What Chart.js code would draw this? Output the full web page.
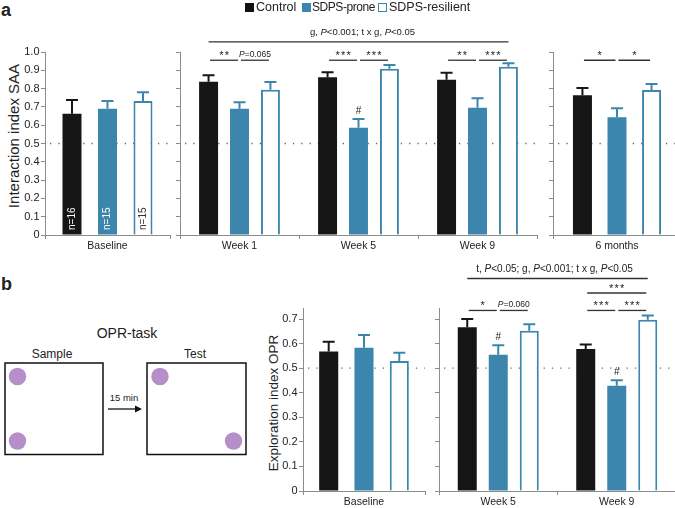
<!DOCTYPE html>
<html>
<head>
<meta charset="utf-8">
<script src="https://cdn.jsdelivr.net/npm/chart.js@4.4.1/dist/chart.umd.min.js"></script>
<style>
  body { margin: 0; width: 675px; height: 508px; overflow: hidden; background: #fff; position: relative;
         font-family: Arial, "Liberation Sans", sans-serif; color: #222; }
  canvas { position: absolute; left: 0; top: 0; }
  svg { position: absolute; left: 0; top: 0; }
  .lg { position: absolute; font-size: 12.5px; line-height: 14px; top: 0; white-space: nowrap; }
  .box { position: absolute; top: 3px; width: 9px; height: 9px; box-sizing: border-box; }
</style>
</head>
<body>
<svg width="675" height="508" font-family="Arial, 'Liberation Sans', sans-serif" fill="#222">
  <text x="1" y="16" font-size="18" font-weight="bold">a</text>
  <text x="1" y="290" font-size="18" font-weight="bold">b</text>
  <text transform="translate(13,136) rotate(-90)" text-anchor="middle" dominant-baseline="central" font-size="15">Interaction index SAA</text>
  <text transform="translate(273.5,403) rotate(-90)" text-anchor="middle" dominant-baseline="central" font-size="13.5">Exploration index OPR</text>
  <text x="127" y="338" text-anchor="middle" font-size="14">OPR-task</text>
  <text x="52" y="357.5" text-anchor="middle" font-size="12">Sample</text>
  <text x="195" y="357.5" text-anchor="middle" font-size="12">Test</text>
  <rect x="5" y="363" width="98" height="91.5" fill="none" stroke="#111" stroke-width="1.5"/>
  <rect x="147" y="363" width="99" height="91.5" fill="none" stroke="#111" stroke-width="1.5"/>
  <g fill="#b48fca">
    <circle cx="17.5" cy="376.5" r="8.7"/>
    <circle cx="17.5" cy="441" r="8.7"/>
    <circle cx="160" cy="376.5" r="8.7"/>
    <circle cx="233.5" cy="441" r="8.7"/>
  </g>
  <text x="124" y="401" text-anchor="middle" font-size="9.5">15 min</text>
  <line x1="108" y1="409" x2="137" y2="409" stroke="#111" stroke-width="1.3"/>
  <polygon points="142,409 135,405.5 135,412.5" fill="#111"/>
</svg>

<canvas id="aBase" width="700" height="508"></canvas>
<canvas id="aWeeks" width="700" height="508"></canvas>
<canvas id="a6m" width="700" height="508"></canvas>
<canvas id="bBase" width="700" height="508"></canvas>
<canvas id="bWeeks" width="700" height="508"></canvas>

<div class="box" style="left:245px;background:#111"></div>
<div class="lg" style="left:256px">Control</div>
<div class="box" style="left:301.5px;background:#3c86ae"></div>
<div class="lg" style="left:312px;font-size:12px;letter-spacing:-0.45px">SDPS-prone</div>
<div class="box" style="left:378px;background:#fff;border:1.5px solid #3c86ae"></div>
<div class="lg" style="left:389px">SDPS-resilient</div>

<script>
// panel a: social approach-avoidance
const groupsA = ['Baseline', 'Week 1', 'Week 5', 'Week 9', '6 months'];
const controlA = [0.663, 0.838, 0.862, 0.849, 0.763];
const proneA = [0.690, 0.690, 0.586, 0.696, 0.643];
const resilientA = [0.732, 0.794, 0.909, 0.920, 0.792];
const controlSemA = [0.075, 0.035, 0.028, 0.038, 0.040];
const proneSemA = [0.042, 0.035, 0.048, 0.051, 0.049];
const resilientSemA = [0.048, 0.042, 0.020, 0.018, 0.033];
const nA = ['n=16', 'n=15', 'n=15'];
const ticksA = [0, 0.1, 0.2, 0.3, 0.4, 0.5, 0.6, 0.7, 0.8, 0.9, 1.0];
const statsA = 'g, P<0.001; t x g, P<0.05';
// [fromGroup, fromSeries, toGroup, toSeries, label, row]
const sigA = [
  [1, 0, 1, 1, '**', 0], [1, 1, 1, 2, 'P=0.065', 0],
  [2, 0, 2, 1, '***', 0], [2, 1, 2, 2, '***', 0],
  [3, 0, 3, 1, '**', 0], [3, 1, 3, 2, '***', 0],
  [4, 0, 4, 1, '*', 0], [4, 1, 4, 2, '*', 0]
];
const hashA = [[2, 1]];

// panel b: object place recognition
const groupsB = ['Baseline', 'Week 5', 'Week 9'];
const controlB = [0.568, 0.667, 0.578];
const proneB = [0.583, 0.555, 0.428];
const resilientB = [0.529, 0.652, 0.697];
const controlSemB = [0.040, 0.033, 0.018];
const proneSemB = [0.052, 0.038, 0.023];
const resilientSemB = [0.034, 0.027, 0.017];
const ticksB = [0, 0.1, 0.2, 0.3, 0.4, 0.5, 0.6, 0.7];
const statsB = 't, P<0.05; g, P<0.001; t x g, P<0.05';
const sigB = [
  [1, 0, 1, 1, '*', 0], [1, 1, 1, 2, 'P=0.060', 0],
  [2, 0, 2, 1, '***', 0], [2, 1, 2, 2, '***', 0],
  [2, 0, 2, 2, '***', 1]
];
const hashB = [[1, 1], [2, 1]];

const BLUE = '#3c86ae';
const AXIS = '#8c8c8c';
Chart.defaults.font.family = 'Arial, "Liberation Sans", sans-serif';
Chart.defaults.color = '#222';

// draws text with every "P" in italics, centred on x
function richText(ctx, text, x, y, size) {
  const parts = text.split(/(P)/).filter(p => p);
  const font = it => (it ? 'italic ' : '') + size + 'px Arial, "Liberation Sans", sans-serif';
  let w = 0;
  parts.forEach(p => { ctx.font = font(p === 'P'); w += ctx.measureText(p).width; });
  let cx = x - w / 2;
  ctx.textAlign = 'left';
  parts.forEach(p => { ctx.font = font(p === 'P'); ctx.fillText(p, cx, y); cx += ctx.measureText(p).width; });
}

const overlay = {
  id: 'overlay',
  beforeDatasetsDraw(chart) {
    const {ctx, chartArea: ca} = chart;
    const y = chart.scales.y.getPixelForValue(0.5);
    ctx.save();
    ctx.strokeStyle = '#6a6a6a';
    ctx.lineWidth = 1.3;
    ctx.setLineDash([1.3, 7]);
    ctx.beginPath();
    ctx.moveTo(ca.left + 5, y);
    ctx.lineTo(ca.right, y);
    ctx.stroke();
    ctx.restore();
  },
  afterDatasetsDraw(chart, args, o) {
    const {ctx} = chart;
    const ys = chart.scales.y;
    const inChart = g => g >= o.first && g < o.first + chart.data.labels.length;
    const bar = (g, s) => chart.getDatasetMeta(s).data[g - o.first];
    const ds = chart.data.datasets;
    ctx.save();

    // error bars (upper half only)
    ds.forEach((d, s) => {
      chart.getDatasetMeta(s).data.forEach((b, j) => {
        const top = ys.getPixelForValue(d.data[j] + d.sem[j]);
        ctx.strokeStyle = d.borderColor;
        ctx.lineWidth = 2;
        ctx.beginPath();
        ctx.moveTo(b.x, b.y);
        ctx.lineTo(b.x, top);
        ctx.moveTo(b.x - 6, top);
        ctx.lineTo(b.x + 6, top);
        ctx.stroke();
      });
    });

    ctx.fillStyle = '#222';
    ctx.textBaseline = 'alphabetic';

    // # marks
    (o.hash || []).filter(h => inChart(h[0])).forEach(([g, s]) => {
      const j = g - o.first;
      const top = ys.getPixelForValue(ds[s].data[j] + ds[s].sem[j]);
      ctx.font = '10px Arial, "Liberation Sans", sans-serif';
      ctx.textAlign = 'center';
      ctx.fillText('#', bar(g, s).x, top - 5);
    });

    // group sizes inside the bars
    (o.n || []).forEach((t, s) => {
      const b = bar(o.first, s);
      ctx.save();
      ctx.translate(b.x, ys.getPixelForValue(0) - 5);
      ctx.rotate(-Math.PI / 2);
      ctx.font = '10px Arial, "Liberation Sans", sans-serif';
      ctx.textAlign = 'left';
      ctx.textBaseline = 'middle';
      ctx.fillStyle = s === 2 ? '#333' : '#fff';
      ctx.fillText(t, 0, 0);
      ctx.restore();
    });

    // significance brackets
    ctx.strokeStyle = '#333';
    ctx.lineWidth = 1.3;
    (o.sig || []).filter(q => inChart(q[0])).forEach(([g1, s1, g2, s2, label, row]) => {
      const x1 = bar(g1, s1).x + 1.5, x2 = bar(g2, s2).x - 1.5;
      const y = ys.getPixelForValue(o.rows[row]);
      ctx.beginPath();
      ctx.moveTo(x1, y);
      ctx.lineTo(x2, y);
      ctx.stroke();
      const cx = (x1 + x2) / 2;
      if (/^\*+$/.test(label)) {
        ctx.font = '11px Arial, "Liberation Sans", sans-serif';
        ctx.textAlign = 'center';
        const n = label.length;
        for (let k = 0; k < n; k++) ctx.fillText('*', cx + (k - (n - 1) / 2) * 5.5, y - 1.5);
      } else {
        richText(ctx, label, cx, y - 3.5, 8.5);
      }
    });

    // overall statistics line
    if (o.header) {
      const h = o.header;
      const x1 = bar(h.from[0], h.from[1]).x, x2 = bar(h.to[0], h.to[1]).x;
      const y = ys.getPixelForValue(h.level);
      ctx.beginPath();
      ctx.moveTo(x1, y);
      ctx.lineTo(x2, y);
      ctx.stroke();
      richText(ctx, h.text, (x1 + x2) / 2 + h.shift, y - 6.5, h.size);
    }
    ctx.restore();
  }
};

function panel(id, cfg) {
  const idx = cfg.idx;
  const pick = arr => idx.map(i => arr[i]);
  new Chart(document.getElementById(id), {
    type: 'bar',
    data: {
      labels: pick(cfg.groups),
      datasets: [
        { label: 'Control', data: pick(cfg.control), sem: pick(cfg.semC),
          backgroundColor: '#161616', borderColor: '#161616', borderWidth: 0 },
        { label: 'SDPS-prone', data: pick(cfg.prone), sem: pick(cfg.semP),
          backgroundColor: BLUE, borderColor: BLUE, borderWidth: 0 },
        { label: 'SDPS-resilient', data: pick(cfg.resilient), sem: pick(cfg.semR),
          backgroundColor: '#fff', borderColor: BLUE, borderWidth: 2 }
      ]
    },
    options: {
      responsive: false,
      animation: false,
      categoryPercentage: cfg.cat,
      barPercentage: cfg.bar,
      layout: { padding: cfg.pad },
      plugins: {
        legend: { display: false },
        tooltip: { enabled: false },
        overlay: cfg.overlay
      },
      scales: {
        x: {
          afterFit: s => { s.height = cfg.xh; },
          grid: { display: true, drawOnChartArea: false, tickLength: 4, color: AXIS, offset: true },
          border: { color: AXIS, width: 1 },
          ticks: { font: { size: 10.5 }, padding: 1, color: '#222' }
        },
        y: {
          min: 0,
          max: cfg.max,
          afterFit: s => { s.width = cfg.yw; },
          afterBuildTicks: s => { s.ticks = cfg.ticks.map(v => ({ value: v })); },
          grid: { display: true, drawOnChartArea: false, tickLength: 4, color: AXIS },
          border: { color: AXIS, width: 1 },
          ticks: {
            display: cfg.labels,
            font: { size: 11 },
            padding: 1.5,
            color: '#222',
            callback: v => (v === 0 ? '0' : v.toFixed(1))
          }
        }
      }
    },
    plugins: [overlay]
  });
}

const srcA = { groups: groupsA, control: controlA, prone: proneA, resilient: resilientA,
  semC: controlSemA, semP: proneSemA, semR: resilientSemA, max: 1.0, ticks: ticksA, xh: 22 };
const srcB = { groups: groupsB, control: controlB, prone: proneB, resilient: resilientB,
  semC: controlSemB, semP: proneSemB, semR: resilientSemB, max: 0.745, ticks: ticksB, xh: 16 };

panel('aBase', { ...srcA, idx: [0], cat: 0.852, bar: 0.535, yw: 45, labels: true,
  pad: { left: 0, right: 530, top: 52, bottom: 251 },
  overlay: { first: 0, n: nA, rows: [0.955] } });
panel('aWeeks', { ...srcA, idx: [1, 2, 3], cat: 0.78, bar: 0.613, yw: 10, labels: false,
  pad: { left: 170, right: 163, top: 52, bottom: 251 },
  overlay: { first: 1, sig: sigA, hash: hashA, rows: [0.955],
    header: { text: statsA, from: [1, 0], to: [3, 2], level: 1.055, size: 9.5, shift: 4 } } });
panel('a6m', { ...srcA, idx: [4], cat: 0.81, bar: 0.55, yw: 10, labels: false,
  pad: { left: 543, right: 19, top: 52, bottom: 251 },
  overlay: { first: 4, sig: sigA, rows: [0.955] } });

panel('bBase', { ...srcB, idx: [0], cat: 0.868, bar: 0.54, yw: 43, labels: true,
  pad: { left: 260, right: 275, top: 308, bottom: 1 },
  overlay: { first: 0, rows: [0.735, 0.806] } });
panel('bWeeks', { ...srcB, idx: [1, 2], cat: 0.785, bar: 0.613, yw: 10, labels: false,
  pad: { left: 429, right: 24, top: 308, bottom: 1 },
  overlay: { first: 1, sig: sigB, hash: hashB, rows: [0.735, 0.806],
    header: { text: statsB, from: [1, 0], to: [2, 2], level: 0.865, size: 10, shift: -3 } } });
</script>
</body>
</html>
